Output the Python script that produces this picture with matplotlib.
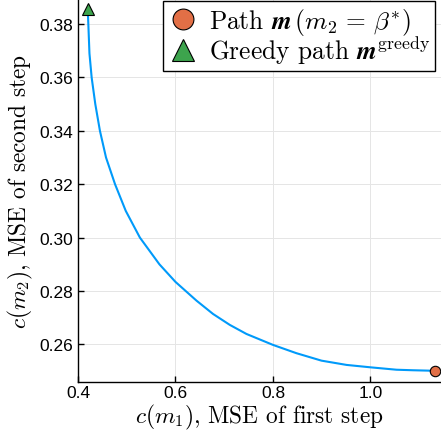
import matplotlib
matplotlib.use("Agg")
import matplotlib.pyplot as plt

# Pareto path: MSE of first step vs MSE of second step
c1_path = [0.4200, 0.4212, 0.4235, 0.4280, 0.4355, 0.4450, 0.4575, 0.4760, 0.4980,
           0.5270, 0.5670, 0.6000, 0.6430, 0.6770, 0.7114, 0.7456, 0.8000,
           0.8480, 0.8995, 0.9510, 1.0000, 1.0533, 1.0874, 1.1320]
c2_path = [0.3856, 0.3800, 0.3690, 0.3600, 0.3500, 0.3400, 0.3300, 0.3200, 0.3100,
           0.3000, 0.2900, 0.2834, 0.2764, 0.2714, 0.2673, 0.2639, 0.2598,
           0.2567, 0.2539, 0.2523, 0.2514, 0.2505, 0.2503, 0.2501]

opt_point = (1.132, 0.2501)     # Path m (m2 = beta*)
greedy_point = (0.420, 0.3856)  # Greedy path

xticks = [0.4, 0.6, 0.8, 1.0]
yticks = [0.26, 0.28, 0.30, 0.32, 0.34, 0.36, 0.38]

plt.rcParams['mathtext.fontset'] = 'cm'
W, H = 441, 431
fig = plt.figure(figsize=(W / 100, H / 100), dpi=100)
ax = fig.add_axes([78 / W, (H - 383) / H, (W - 78) / W, 383 / H])

ax.plot(c1_path, c2_path, color='#009AFA', lw=1.5, zorder=2,
        solid_joinstyle='round')
ax.plot([opt_point[0]], [opt_point[1]], 'o', ms=7.5, mfc='#E26F46', mec='black',
        mew=0.8, ls='none', zorder=3, label=r'Path $\mathbfit{m}\,(m_2\,=\,\beta^{*})$',
        clip_on=False)
ax.plot([greedy_point[0]], [greedy_point[1]], '^', ms=8, mfc='#3DA44D', mec='black',
        mew=0.8, ls='none', zorder=3, label=r'Greedy path $\mathbfit{m}^{\mathrm{greedy}}$',
        clip_on=False)

ax.set_xlim(0.4, 1.1447)
ax.set_ylim(0.2459, 0.3894)
ax.set_xticks(xticks)
ax.set_xticklabels(['0.4', '0.6', '0.8', '1.0'])
ax.set_yticks(yticks)
ax.set_yticklabels(['%.2f' % v for v in yticks])

for s in ['top', 'right']:
    ax.spines[s].set_visible(False)
for s in ['left', 'bottom']:
    ax.spines[s].set_linewidth(1.0)
    ax.spines[s].set_color('black')

ax.grid(True, color='#e5e5e5', lw=0.7)
ax.set_axisbelow(True)
ax.tick_params(direction='in', length=4, width=1, labelsize=12.5, colors='black')
ax.tick_params(axis='x', pad=2.5)
ax.tick_params(axis='y', pad=3.6)
for lab in ax.get_xticklabels() + ax.get_yticklabels():
    lab.set_fontfamily('Liberation Sans')

ax.set_xlabel(r'$c(m_1)$, MSE of first step', family='cmr10', fontsize=16.8, labelpad=1)
ax.set_ylabel(r'$c(m_2)$, MSE of second step', family='cmr10', fontsize=16.8, labelpad=3)

leg = ax.legend(loc='upper right', bbox_to_anchor=(1.0 - 6 / (W - 78), 1.0 - 1.5 / 383),
                prop={'family': 'cmr10', 'size': 18.3}, frameon=True, fancybox=False,
                edgecolor='black', framealpha=1, markerscale=2.0, handlelength=1.2,
                handletextpad=0.4, borderpad=0.2, labelspacing=-0.1, borderaxespad=0)
leg.get_frame().set_linewidth(1.0)

fig.savefig('out.png', dpi=100)
